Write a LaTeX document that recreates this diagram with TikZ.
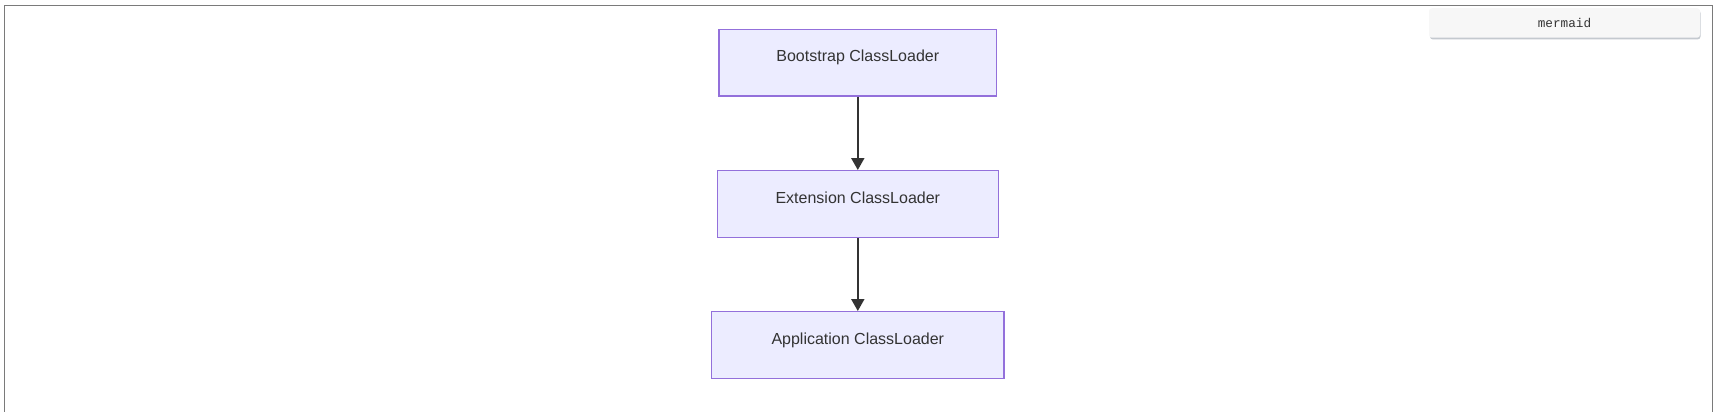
\documentclass[tikz,border=0pt]{standalone}
\usepackage{fontspec}
\setmainfont{Liberation Sans}
\newfontfamily\btnfont{Liberation Mono}
\usetikzlibrary{arrows.meta}
\definecolor{boxfill}{HTML}{ECECFF}
\definecolor{boxline}{HTML}{9370DB}
\definecolor{ink}{HTML}{333333}
\definecolor{framec}{HTML}{7A7A7A}
\definecolor{btnfill}{HTML}{F7F7F7}
\definecolor{btnshadow}{HTML}{C4C9CF}
\tikzset{
  classbox/.style={draw=boxline, fill=boxfill, line width=1.3pt, rectangle,
    minimum height=66.7pt, inner sep=0pt, text=ink,
    font=\fontsize{16pt}{19pt}\selectfont, text height=10pt, text depth=11.8pt},
  flow/.style={draw=ink, line width=2pt, -{Triangle[length=12pt,width=13pt]}},
  btn/.style={fill=btnfill, rounded corners=3pt, minimum width=271pt, minimum height=29.5pt,
    inner sep=0pt, text=ink, font=\btnfont\fontsize{12.7pt}{15pt}\selectfont}
}
\begin{document}
\begin{tikzpicture}[x=1pt,y=-1pt]
\useasboundingbox (0,0) rectangle (1714,412);
\fill[white] (0,0) rectangle (1714,412);
% outer frame
\draw[framec, line width=1.3pt] (4.5,412) -- (4.5,5.5) -- (1712.5,5.5) -- (1712.5,412);
% button
\fill[btnshadow, rounded corners=3pt] (1430,10) rectangle (1700.5,39.5);
\node[btn] (btn) at (1564.5,23) {mermaid};
% class loader boxes
\node[classbox, minimum width=277.7pt] (boot) at (857.8,62.7) {Bootstrap ClassLoader};
\node[classbox, minimum width=281pt] (ext) at (857.8,204) {Extension ClassLoader};
\node[classbox, minimum width=292.3pt] (app) at (857.8,345) {Application ClassLoader};
\draw[flow] (boot.south) -- (ext.north);
\draw[flow] (ext.south) -- (app.north);
\end{tikzpicture}
\end{document}
